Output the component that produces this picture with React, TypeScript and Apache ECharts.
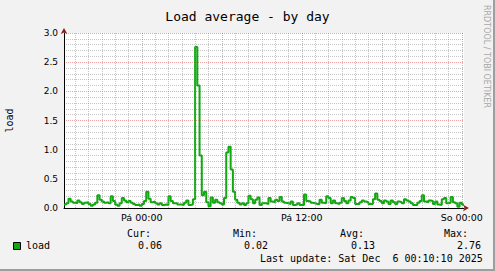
import React, { useEffect, useRef } from 'react';
import * as echarts from 'echarts';

const TITLE = 'Load average - by day';
const Y_NAME = 'load';
const WATERMARK = 'RRDTOOL / TOBI OETIKER';
// time in hours relative to Fri 00:00; window Thu 18:10 .. Sat 00:10, 10-minute steps
const START_HOUR = -35 / 6;
const END_HOUR = 145 / 6;
const STEP_HOURS = 1 / 6;

const LOAD = [
  0.06, 0.08, 0.16, 0.11, 0.09, 0.08, 0.13, 0.10, 0.07, 0.09,
  0.10, 0.07, 0.04, 0.06, 0.09, 0.22, 0.14, 0.11, 0.09, 0.10,
  0.08, 0.20, 0.12, 0.06, 0.04, 0.08, 0.17, 0.13, 0.10, 0.12,
  0.09, 0.07, 0.05, 0.06, 0.04, 0.07, 0.12, 0.28, 0.16, 0.10,
  0.11, 0.08, 0.06, 0.08, 0.05, 0.06, 0.05, 0.20, 0.12, 0.08,
  0.08, 0.06, 0.06, 0.05, 0.09, 0.13, 0.05, 0.06, 0.15, 2.76,
  2.10, 0.90, 0.22, 0.28, 0.10, 0.03, 0.18, 0.09, 0.14, 0.10,
  0.08, 0.06, 0.17, 0.95, 1.05, 0.66, 0.28, 0.14, 0.09, 0.06,
  0.08, 0.05, 0.08, 0.21, 0.15, 0.08, 0.14, 0.18, 0.05, 0.08,
  0.08, 0.07, 0.17, 0.11, 0.10, 0.14, 0.12, 0.19, 0.11, 0.09,
  0.08, 0.07, 0.11, 0.05, 0.06, 0.08, 0.05, 0.05, 0.23, 0.12,
  0.11, 0.09, 0.08, 0.07, 0.07, 0.14, 0.09, 0.08, 0.20, 0.17,
  0.08, 0.13, 0.08, 0.07, 0.09, 0.17, 0.12, 0.08, 0.13, 0.19,
  0.17, 0.07, 0.07, 0.10, 0.13, 0.11, 0.10, 0.07, 0.07, 0.15,
  0.25, 0.14, 0.12, 0.08, 0.13, 0.11, 0.07, 0.13, 0.10, 0.07,
  0.11, 0.10, 0.08, 0.15, 0.13, 0.11, 0.08, 0.05, 0.05, 0.09,
  0.12, 0.22, 0.11, 0.10, 0.13, 0.12, 0.07, 0.11, 0.06, 0.05,
  0.15, 0.17, 0.08, 0.09, 0.19, 0.10, 0.08, 0.02, 0.09, 0.06,
  0.06,
];

const HOUR_GRID = [
  -5, -4, -3, -2, -1, 0, 1, 2, 3, 4, 5, 6, 7, 8, 9, 10, 11, 12,
  13, 14, 15, 16, 17, 18, 19, 20, 21, 22, 23, 24,
];
const MAJOR_HOURS = [0, 6, 12, 18, 24];
const LABEL_HOURS = [0, 12, 24];
const LABEL_TEXTS = ['Pá 00:00', 'Pá 12:00', 'So 00:00'];

const Y_MIN = 0;
const Y_MAX = 3;
const Y_STEP = 0.5;

const SERIES_NAME = 'load';
const STAT_NAMES = ['Cur:', 'Min:', 'Avg:', 'Max:'];
const STAT_VALUES = ['0.06', '0.02', '0.13', '2.76'];
const LAST_UPDATE = 'Last update: Sat Dec  6 00:10:10 2025';

const GREEN = '#12a812';
const MINOR = 'rgba(140,140,140,0.5)';
const MAJOR = 'rgba(215,50,50,0.45)';
const ARROW = '#8a1c1c';
const MONO = '"DejaVu Sans Mono", monospace';
const SANS = '"DejaVu Sans", sans-serif';

export default function App() {
  const ref = useRef<HTMLDivElement>(null);
  useEffect(() => {
    document.body.style.margin = '0';
    if (!ref.current) return;
    const chart = echarts.init(ref.current, undefined, { renderer: 'svg' });

    const statX = [127, 233, 340, 444];
    const statValX = [138, 244, 351, 457];
    const txt = (x: number, y: number, text: string, extra: any = {}) => ({
      type: 'text',
      x,
      y,
      silent: true,
      style: {
        text,
        fill: '#000',
        font: `10px ${MONO}`,
        textAlign: 'left',
        textVerticalAlign: 'middle',
        align: 'left',
        verticalAlign: 'middle',
        ...extra,
      },
    });

    const graphics: any[] = [
      { type: 'rect', shape: { x: 493, y: 0, width: 2, height: 271 }, style: { fill: '#9e9e9e' }, silent: true },
      { type: 'rect', shape: { x: 0, y: 269, width: 495, height: 2 }, style: { fill: '#9e9e9e' }, silent: true },
      {
        type: 'text',
        x: 486,
        y: 5,
        rotation: -Math.PI / 2,
        silent: true,
        style: {
          text: WATERMARK,
          fill: '#a8a8a8',
          font: `8px ${SANS}`,
          textAlign: 'left',
          textVerticalAlign: 'middle',
          align: 'left',
          verticalAlign: 'middle',
        },
      },
      {
        type: 'rect',
        shape: { x: 13.5, y: 242.5, width: 7, height: 7 },
        style: { fill: GREEN, stroke: '#000', lineWidth: 1 },
        silent: true,
      },
      txt(26, 245.5, SERIES_NAME),
      txt(260, 258, LAST_UPDATE),
    ];
    STAT_NAMES.forEach((n, i) => {
      graphics.push(txt(statX[i], 233.5, n));
      graphics.push(txt(statValX[i], 245.5, STAT_VALUES[i]));
    });

    const axisBase = {
      type: 'value',
      min: START_HOUR,
      max: END_HOUR,
    };

    chart.setOption({
      animation: false,
      backgroundColor: '#f2f2f2',
      title: {
        text: TITLE,
        left: 'center',
        top: 5,
        textStyle: { fontFamily: MONO, fontSize: 13, fontWeight: 'normal', color: '#000' },
      },
      grid: {
        left: 64,
        right: 31,
        top: 33,
        bottom: 63,
        show: true,
        backgroundColor: '#ffffff',
        borderWidth: 0,
        containLabel: false,
        outerBoundsMode: 'none',
      },
      xAxis: [
        {
          ...axisBase,
          position: 'bottom',
          axisLine: { show: true, onZero: false, lineStyle: { color: '#000', width: 1 } },
          axisTick: { show: false },
          splitLine: { show: false },
          axisLabel: {
            customValues: LABEL_HOURS,
            formatter: (v: number) => {
              const k = LABEL_HOURS.findIndex((h) => Math.abs(h - v) < 1e-6);
              return k >= 0 ? LABEL_TEXTS[k] : '';
            },
            fontFamily: SANS,
            fontSize: 9.5,
            color: '#000',
            margin: 4,
          },
        },
        {
          ...axisBase,
          position: 'bottom',
          axisLine: {
            show: true,
            onZero: false,
            symbol: ['none', 'arrow'],
            symbolSize: [5, 6],
            symbolOffset: [0, 5],
            lineStyle: { color: ARROW, width: 0 },
          },
          axisTick: { show: false },
          axisLabel: { show: false },
          splitLine: { show: false },
        },
      ],
      yAxis: [
        {
          type: 'value',
          min: Y_MIN,
          max: Y_MAX,
          interval: Y_STEP,
          position: 'left',
          name: Y_NAME,
          nameLocation: 'middle',
          nameRotate: 90,
          nameGap: 50,
          nameTextStyle: { fontFamily: MONO, fontSize: 10, color: '#000' },
          axisLine: { show: true, onZero: false, lineStyle: { color: '#000', width: 1 } },
          axisTick: { show: false },
          axisLabel: {
            formatter: (v: number) => v.toFixed(1),
            fontFamily: SANS,
            fontSize: 9,
            color: '#000',
            margin: 6,
          },
          splitLine: { show: true, lineStyle: { color: MAJOR, type: [1, 1], width: 1 } },
          minorTick: { show: false, splitNumber: 5 },
          minorSplitLine: { show: true, lineStyle: { color: MINOR, type: [1, 1], width: 1 } },
        },
        {
          type: 'value',
          min: Y_MIN,
          max: Y_MAX,
          position: 'left',
          axisLine: {
            show: true,
            onZero: false,
            symbol: ['none', 'arrow'],
            symbolSize: [5, 6],
            symbolOffset: [0, 5],
            lineStyle: { color: ARROW, width: 0 },
          },
          axisTick: { show: false },
          axisLabel: { show: false },
          splitLine: { show: false },
        },
      ],
      series: [
        {
          type: 'line',
          xAxisIndex: 0,
          yAxisIndex: 0,
          data: [[START_HOUR, null]],
          showSymbol: false,
          z: 1,
          silent: true,
          markLine: {
            silent: true,
            symbol: ['none', 'none'],
            label: { show: false },
            animation: false,
            data: HOUR_GRID.map((h) => ({
              xAxis: h,
              lineStyle: {
                color: MAJOR_HOURS.includes(h) ? MAJOR : MINOR,
                type: [1, 1],
                width: 1,
              },
            })),
          },
        },
        {
          type: 'line',
          name: SERIES_NAME,
          xAxisIndex: 0,
          yAxisIndex: 0,
          step: 'end',
          showSymbol: false,
          z: 3,
          lineStyle: { color: GREEN, width: 2 },
          itemStyle: { color: GREEN },
          data: LOAD.map((v, i) => [START_HOUR + i * STEP_HOURS, v]),
        },
      ],
      graphic: graphics,
    });
    return () => chart.dispose();
  }, []);
  return <div ref={ref} style={{ width: 495, height: 271 }} />;
}
